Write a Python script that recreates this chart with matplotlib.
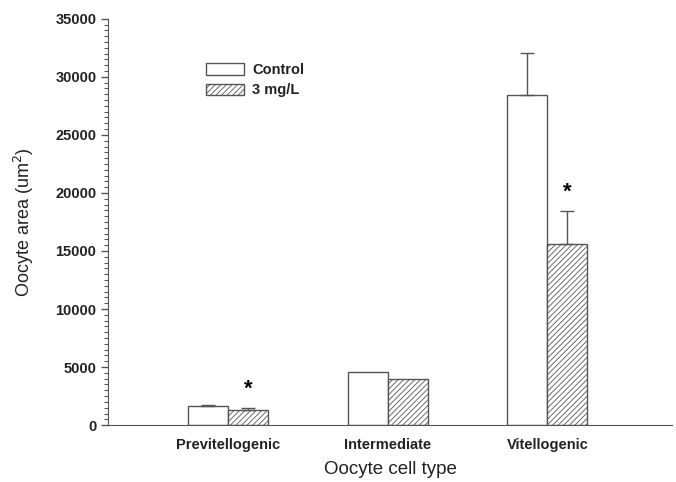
import numpy as np
import matplotlib
matplotlib.use("Agg")
import matplotlib.pyplot as plt
from matplotlib.ticker import MultipleLocator

plt.rcParams['font.family'] = ['Liberation Sans', 'DejaVu Sans']
plt.rcParams['hatch.color'] = '#555555'
plt.rcParams['hatch.linewidth'] = 0.6

# donnees
categories = ['Previtellogenic', 'Intermediate', 'Vitellogenic']
controle = [1640, 4570, 28450]
controle_err = [80, 0, 3600]
traite = [1300, 3970, 15600]
traite_err = [170, 0, 2850]
etoiles = [True, False, True]

x = np.arange(len(categories))
w = 0.25

fig = plt.figure(figsize=(6.76, 4.82), dpi=100)
ax = fig.add_axes([0.160, 0.118, 0.834, 0.843])

ax.bar(x - w/2, controle, w, color='white', edgecolor='#555555', linewidth=1, label='Control')
ax.bar(x + w/2, traite, w, color='white', edgecolor='#555555', hatch='//////', linewidth=1, label='3 mg/L')

for i in range(len(categories)):
    if controle_err[i] > 0:
        ax.errorbar(x[i] - w/2, controle[i], yerr=[[0], [controle_err[i]]], fmt='none',
                    ecolor='#555555', elinewidth=1, capsize=5, capthick=1)
    if traite_err[i] > 0:
        ax.errorbar(x[i] + w/2, traite[i], yerr=[[0], [traite_err[i]]], fmt='none',
                    ecolor='#555555', elinewidth=1, capsize=5, capthick=1)
    if etoiles[i]:
        ax.text(x[i] + w/2, traite[i] + traite_err[i] + 700, '*', ha='center', va='bottom',
                fontsize=16, fontweight='bold')

ax.set_xlim(-0.75, 2.78)
ax.set_ylim(0, 35000)
ax.yaxis.set_major_locator(MultipleLocator(5000))
ax.yaxis.set_minor_locator(MultipleLocator(500))
ax.set_xticks(x)
ax.set_xticklabels(categories, fontsize=10.5, fontweight='bold', color='#222222')
ax.tick_params(axis='x', length=0, pad=9)
ax.tick_params(axis='y', which='major', length=5, labelsize=10.5, width=1, color='#555555')
ax.tick_params(axis='y', which='minor', length=3, width=0.8, color='#555555')
for lab in ax.get_yticklabels():
    lab.set_fontweight('bold')
    lab.set_color('#222222')
for s in ['top', 'right']:
    ax.spines[s].set_visible(False)
ax.spines['left'].set_color('#555555')
ax.spines['bottom'].set_color('#555555')

ax.set_ylabel('Oocyte area (um$^2$)', fontsize=13, labelpad=14, color='#222222')
ax.set_xlabel('Oocyte cell type', fontsize=13.5, labelpad=7, color='#222222')

leg = ax.legend(loc='upper left', bbox_to_anchor=(0.151, 0.923), frameon=False,
                prop={'size': 10.5, 'weight': 'bold'},
                handlelength=2.55, handleheight=0.82, handletextpad=0.6, labelspacing=0.42)
for t in leg.get_texts():
    t.set_color('#222222')

plt.savefig('out.png', dpi=100)
